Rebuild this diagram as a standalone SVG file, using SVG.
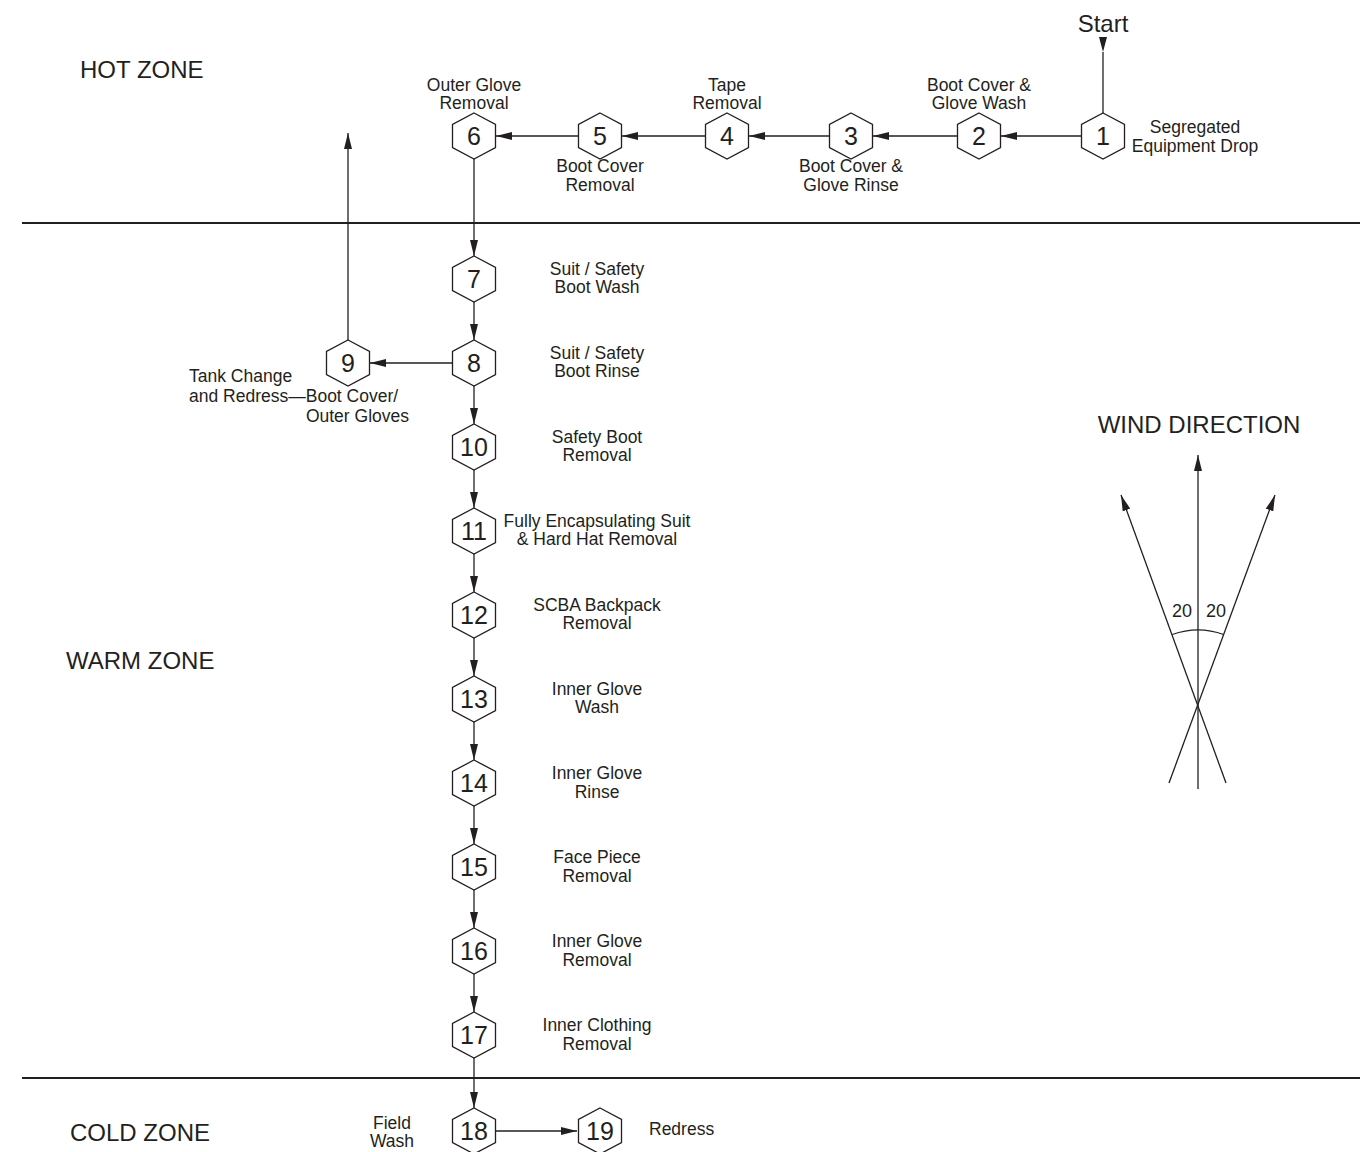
<svg xmlns="http://www.w3.org/2000/svg" xmlns:xlink="http://www.w3.org/1999/xlink" width="1369" height="1152" viewBox="0 0 1369 1152">
<style>
text{font-family:"Liberation Sans",Arial,sans-serif;fill:#231f20}
.lb{font-size:17.5px;text-anchor:middle}
.lbl{font-size:17.5px}
.zone{font-size:24px}
.num{font-size:25px;text-anchor:middle}
.hx{fill:#fff;stroke:#231f20;stroke-width:1.3}
.ln{fill:none;stroke:#231f20;stroke-width:1.3}
.ar{fill:none;stroke:#231f20;stroke-width:1.3;marker-end:url(#ah)}
.zl{stroke:#231f20;stroke-width:2.2}
</style>
<defs>
<marker id="ah" viewBox="0 0 16 8" refX="16" refY="4" markerWidth="16" markerHeight="8" markerUnits="userSpaceOnUse" orient="auto">
<path d="M0,0 L16,4 L0,8 z" fill="#231f20"/>
</marker>
<polygon id="hex" points="0,-23 21.5,-11.5 21.5,11.5 0,23 -21.5,11.5 -21.5,-11.5"/>
</defs>
<rect width="1369" height="1152" fill="#fff"/>

<g id="zones">
<line class="zl" x1="22" y1="223" x2="1360" y2="223"/>
<line class="zl" x1="22" y1="1078" x2="1360" y2="1078"/>
<text class="zone" x="80" y="78">HOT ZONE</text>
<text class="zone" x="66" y="669">WARM ZONE</text>
<text class="zone" x="70" y="1141">COLD ZONE</text>
</g>

<g id="connectors">
<polygon points="1099,37 1107,37 1103,52" fill="#231f20"/>
<line class="ln" x1="1103" y1="52" x2="1103" y2="113"/>
<line class="ar" x1="1081.5" y1="136" x2="1001" y2="136"/>
<line class="ar" x1="957.5" y1="136" x2="873" y2="136"/>
<line class="ar" x1="829.5" y1="136" x2="749" y2="136"/>
<line class="ar" x1="705.5" y1="136" x2="622" y2="136"/>
<line class="ar" x1="578.5" y1="136" x2="496" y2="136"/>
<line class="ar" x1="474" y1="159" x2="474" y2="256"/>
<line class="ar" x1="474" y1="302" x2="474" y2="340"/>
<line class="ar" x1="452.5" y1="363" x2="370" y2="363"/>
<line class="ar" x1="348" y1="340" x2="348" y2="133"/>
<line class="ar" x1="474" y1="386" x2="474" y2="424"/>
<line class="ar" x1="474" y1="470" x2="474" y2="508"/>
<line class="ar" x1="474" y1="554" x2="474" y2="592"/>
<line class="ar" x1="474" y1="638" x2="474" y2="676"/>
<line class="ar" x1="474" y1="722" x2="474" y2="760"/>
<line class="ar" x1="474" y1="806" x2="474" y2="844"/>
<line class="ar" x1="474" y1="890" x2="474" y2="928"/>
<line class="ar" x1="474" y1="974" x2="474" y2="1012"/>
<line class="ar" x1="474" y1="1058" x2="474" y2="1108"/>
<line class="ar" x1="495.5" y1="1131" x2="577" y2="1131"/>
</g>

<g id="n1"><use xlink:href="#hex" class="hx" x="1103" y="136"/><text class="num" x="1103" y="145">1</text>
<text class="lb" x="1195" y="133">Segregated</text><text class="lb" x="1195" y="152">Equipment Drop</text></g>
<g id="start"><text x="1103" y="32" style="font-size:24px;text-anchor:middle">Start</text></g>
<g id="n2"><use xlink:href="#hex" class="hx" x="979" y="136"/><text class="num" x="979" y="145">2</text>
<text class="lb" x="979" y="91">Boot Cover &amp;</text><text class="lb" x="979" y="109">Glove Wash</text></g>
<g id="n3"><use xlink:href="#hex" class="hx" x="851" y="136"/><text class="num" x="851" y="145">3</text>
<text class="lb" x="851" y="172">Boot Cover &amp;</text><text class="lb" x="851" y="191">Glove Rinse</text></g>
<g id="n4"><use xlink:href="#hex" class="hx" x="727" y="136"/><text class="num" x="727" y="145">4</text>
<text class="lb" x="727" y="91">Tape</text><text class="lb" x="727" y="109">Removal</text></g>
<g id="n5"><use xlink:href="#hex" class="hx" x="600" y="136"/><text class="num" x="600" y="145">5</text>
<text class="lb" x="600" y="172">Boot Cover</text><text class="lb" x="600" y="191">Removal</text></g>
<g id="n6"><use xlink:href="#hex" class="hx" x="474" y="136"/><text class="num" x="474" y="145">6</text>
<text class="lb" x="474" y="91">Outer Glove</text><text class="lb" x="474" y="109">Removal</text></g>

<g id="n7"><use xlink:href="#hex" class="hx" x="474" y="279"/><text class="num" x="474" y="288">7</text>
<text class="lb" x="597" y="275">Suit / Safety</text><text class="lb" x="597" y="293">Boot Wash</text></g>
<g id="n8"><use xlink:href="#hex" class="hx" x="474" y="363"/><text class="num" x="474" y="372">8</text>
<text class="lb" x="597" y="359">Suit / Safety</text><text class="lb" x="597" y="377">Boot Rinse</text></g>
<g id="n9"><use xlink:href="#hex" class="hx" x="348" y="363"/><text class="num" x="348" y="372">9</text>
<text class="lbl" x="189" y="382">Tank Change</text><text class="lbl" x="189" y="402">and Redress—Boot Cover/</text>
<text class="lbl" x="409" y="422" style="text-anchor:end">Outer Gloves</text></g>
<g id="n10"><use xlink:href="#hex" class="hx" x="474" y="447"/><text class="num" x="474" y="456">10</text>
<text class="lb" x="597" y="443">Safety Boot</text><text class="lb" x="597" y="461">Removal</text></g>
<g id="n11"><use xlink:href="#hex" class="hx" x="474" y="531"/><text class="num" x="474" y="540">11</text>
<text class="lb" x="597" y="527">Fully Encapsulating Suit</text><text class="lb" x="597" y="545">&amp; Hard Hat Removal</text></g>
<g id="n12"><use xlink:href="#hex" class="hx" x="474" y="615"/><text class="num" x="474" y="624">12</text>
<text class="lb" x="597" y="611">SCBA Backpack</text><text class="lb" x="597" y="629">Removal</text></g>
<g id="n13"><use xlink:href="#hex" class="hx" x="474" y="699"/><text class="num" x="474" y="708">13</text>
<text class="lb" x="597" y="695">Inner Glove</text><text class="lb" x="597" y="713">Wash</text></g>
<g id="n14"><use xlink:href="#hex" class="hx" x="474" y="783"/><text class="num" x="474" y="792">14</text>
<text class="lb" x="597" y="779">Inner Glove</text><text class="lb" x="597" y="798">Rinse</text></g>
<g id="n15"><use xlink:href="#hex" class="hx" x="474" y="867"/><text class="num" x="474" y="876">15</text>
<text class="lb" x="597" y="863">Face Piece</text><text class="lb" x="597" y="882">Removal</text></g>
<g id="n16"><use xlink:href="#hex" class="hx" x="474" y="951"/><text class="num" x="474" y="960">16</text>
<text class="lb" x="597" y="947">Inner Glove</text><text class="lb" x="597" y="966">Removal</text></g>
<g id="n17"><use xlink:href="#hex" class="hx" x="474" y="1035"/><text class="num" x="474" y="1044">17</text>
<text class="lb" x="597" y="1031">Inner Clothing</text><text class="lb" x="597" y="1050">Removal</text></g>
<g id="n18"><use xlink:href="#hex" class="hx" x="474" y="1131"/><text class="num" x="474" y="1140">18</text>
<text class="lb" x="392" y="1129">Field</text><text class="lb" x="392" y="1147">Wash</text></g>
<g id="n19"><use xlink:href="#hex" class="hx" x="600" y="1131"/><text class="num" x="600" y="1140">19</text>
<text class="lbl" x="649" y="1135">Redress</text></g>

<g id="wind">
<text class="zone" x="1199" y="433" style="text-anchor:middle">WIND DIRECTION</text>
<line class="ar" x1="1198" y1="789" x2="1198" y2="455"/>
<line class="ar" x1="1226" y1="783" x2="1121" y2="495"/>
<line class="ar" x1="1169" y1="783" x2="1275" y2="495"/>
<path class="ln" d="M1172.3,634.5 A75,75 0 0 1 1223.7,634.5"/>
<text class="lb" x="1182" y="617" style="font-size:18px">20</text>
<text class="lb" x="1216" y="617" style="font-size:18px">20</text>
</g>
</svg>
